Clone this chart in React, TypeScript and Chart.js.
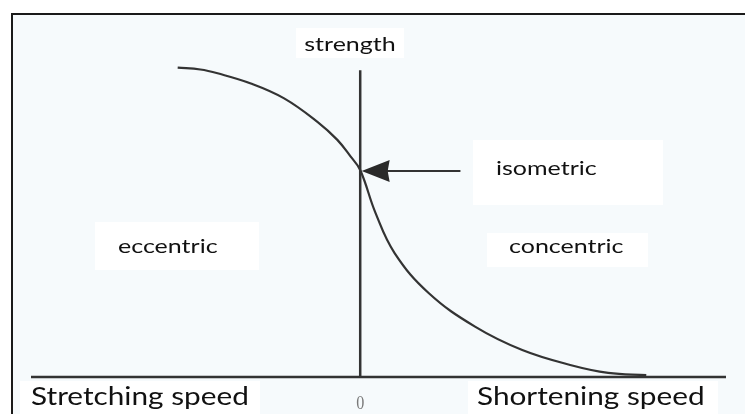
import React, { useEffect, useRef } from "react";
import { Chart, registerables } from "chart.js";

Chart.register(...registerables);

// Force–velocity curve (speed on x, strength on y)
const curveSpeed = [-0.499, -0.437, -0.39, -0.299, -0.208, -0.117, -0.0625, -0.026, 0, 0.042, 0.094, 0.187, 0.315, 0.443, 0.574, 0.678, 0.782];
const curveStrength = [0.976, 0.97, 0.958, 0.926, 0.879, 0.805, 0.748, 0.695, 0.653, 0.517, 0.391, 0.265, 0.158, 0.085, 0.038, 0.013, 0.006];

const speedMin = -0.9;
const speedMax = 1.0;
const strengthMin = 0;
const strengthMax = 1.0;
const strengthAxisTop = 0.968;

const arrowTailSpeed = 0.274;
const arrowTipSpeed = 0.004;
const arrowStrength = 0.65;

const zeroTickLabel = "0";
const yAxisTitle = "strength";
const leftAxisTitle = "Stretching speed";
const rightAxisTitle = "Shortening speed";
const eccentricLabel = "eccentric";
const concentricLabel = "concentric";
const isometricLabel = "isometric";

const FONT = "Lato, 'Open Sans', sans-serif";
const INK = "#333333";

function stretchedText(
  ctx: CanvasRenderingContext2D,
  text: string,
  x: number,
  y: number,
  align: CanvasTextAlign,
  sx: number
) {
  ctx.save();
  ctx.translate(x, y);
  ctx.scale(sx, 1);
  ctx.textAlign = align;
  ctx.fillText(text, 0, 0);
  ctx.restore();
}

const decorPlugin = {
  id: "decor",
  beforeDraw(chart: any) {
    const ctx = chart.ctx as CanvasRenderingContext2D;
    const W = chart.width;
    const H = chart.height;
    ctx.save();
    ctx.fillStyle = "#ffffff";
    ctx.fillRect(0, 0, W, H);
    ctx.fillStyle = "rgb(246,250,252)";
    ctx.fillRect(12, 14, W - 12, H - 14);
    // white label boxes
    ctx.fillStyle = "#ffffff";
    ctx.fillRect(473, 140, 190, 65);
    ctx.fillRect(95, 222, 164, 48);
    ctx.fillRect(487, 233, 161, 34);
    ctx.fillRect(296, 28, 108, 30);
    ctx.fillRect(20, 381, 240, 33);
    ctx.fillRect(468, 381, 250, 33);
    // frame
    ctx.strokeStyle = "#1a1a1a";
    ctx.lineWidth = 2;
    ctx.beginPath();
    ctx.moveTo(12, H);
    ctx.lineTo(12, 14);
    ctx.lineTo(W, 14);
    ctx.stroke();
    ctx.restore();
  },
  afterDatasetsDraw(chart: any) {
    const ctx = chart.ctx as CanvasRenderingContext2D;
    const xs = chart.scales.x;
    const ys = chart.scales.y;
    ctx.save();
    // arrow toward the isometric point
    const tipX = xs.getPixelForValue(arrowTipSpeed);
    const tailX = xs.getPixelForValue(arrowTailSpeed);
    const ay = ys.getPixelForValue(arrowStrength);
    ctx.strokeStyle = INK;
    ctx.lineWidth = 2;
    ctx.beginPath();
    ctx.moveTo(tailX, ay);
    ctx.lineTo(tipX + 20, ay);
    ctx.stroke();
    ctx.fillStyle = "#2a2a2a";
    ctx.beginPath();
    ctx.moveTo(tipX, ay);
    ctx.lineTo(tipX + 28, ay - 11);
    ctx.lineTo(tipX + 26, ay);
    ctx.lineTo(tipX + 28, ay + 11);
    ctx.closePath();
    ctx.fill();

    // texts
    ctx.fillStyle = "#111111";
    ctx.textBaseline = "alphabetic";
    ctx.font = `20px ${FONT}`;
    stretchedText(ctx, yAxisTitle, 350, 51, "center", 1.25);
    stretchedText(ctx, isometricLabel, 496, 175, "left", 1.25);
    stretchedText(ctx, eccentricLabel, 118, 253, "left", 1.25);
    stretchedText(ctx, concentricLabel, 509, 253, "left", 1.25);
    ctx.font = `25px ${FONT}`;
    stretchedText(ctx, leftAxisTitle, 31, 405, "left", 1.19);
    stretchedText(ctx, rightAxisTitle, 477, 405, "left", 1.19);
    ctx.fillStyle = "#7a7a7a";
    ctx.font = `19px 'Liberation Serif', 'DejaVu Serif', serif`;
    stretchedText(ctx, zeroTickLabel, xs.getPixelForValue(0), 409, "center", 0.85);
    ctx.restore();
  },
};

export default function App() {
  const canvasRef = useRef<HTMLCanvasElement | null>(null);

  useEffect(() => {
    if (!canvasRef.current) return;
    const curve = curveSpeed.map((x, i) => ({ x, y: curveStrength[i] }));
    const chart = new Chart(canvasRef.current, {
      type: "line",
      data: {
        datasets: [
          {
            label: "speed axis",
            data: [
              { x: speedMin, y: 0 },
              { x: speedMax, y: 0 },
            ],
            borderColor: INK,
            borderWidth: 2.5,
            pointRadius: 0,
            clip: false,
          } as any,
          {
            label: "strength axis",
            data: [
              { x: 0, y: 0 },
              { x: 0, y: strengthAxisTop },
            ],
            borderColor: INK,
            borderWidth: 2.5,
            pointRadius: 0,
            clip: false,
          } as any,
          {
            label: "force-velocity",
            data: curve,
            borderColor: INK,
            borderWidth: 2.2,
            pointRadius: 0,
            tension: 0.4,
            clip: false,
          } as any,
        ],
      },
      options: {
        animation: false,
        responsive: true,
        maintainAspectRatio: false,
        layout: { padding: { left: 31, right: 19, top: 60, bottom: 37 } },
        plugins: { legend: { display: false }, tooltip: { enabled: false } },
        scales: {
          x: { type: "linear", min: speedMin, max: speedMax, display: false },
          y: { type: "linear", min: strengthMin, max: strengthMax, display: false },
        },
      },
      plugins: [decorPlugin],
    });
    return () => chart.destroy();
  }, []);

  return (
    <div style={{ position: "fixed", left: 0, top: 0, width: 745, height: 414 }}>
      <canvas ref={canvasRef} />
    </div>
  );
}
